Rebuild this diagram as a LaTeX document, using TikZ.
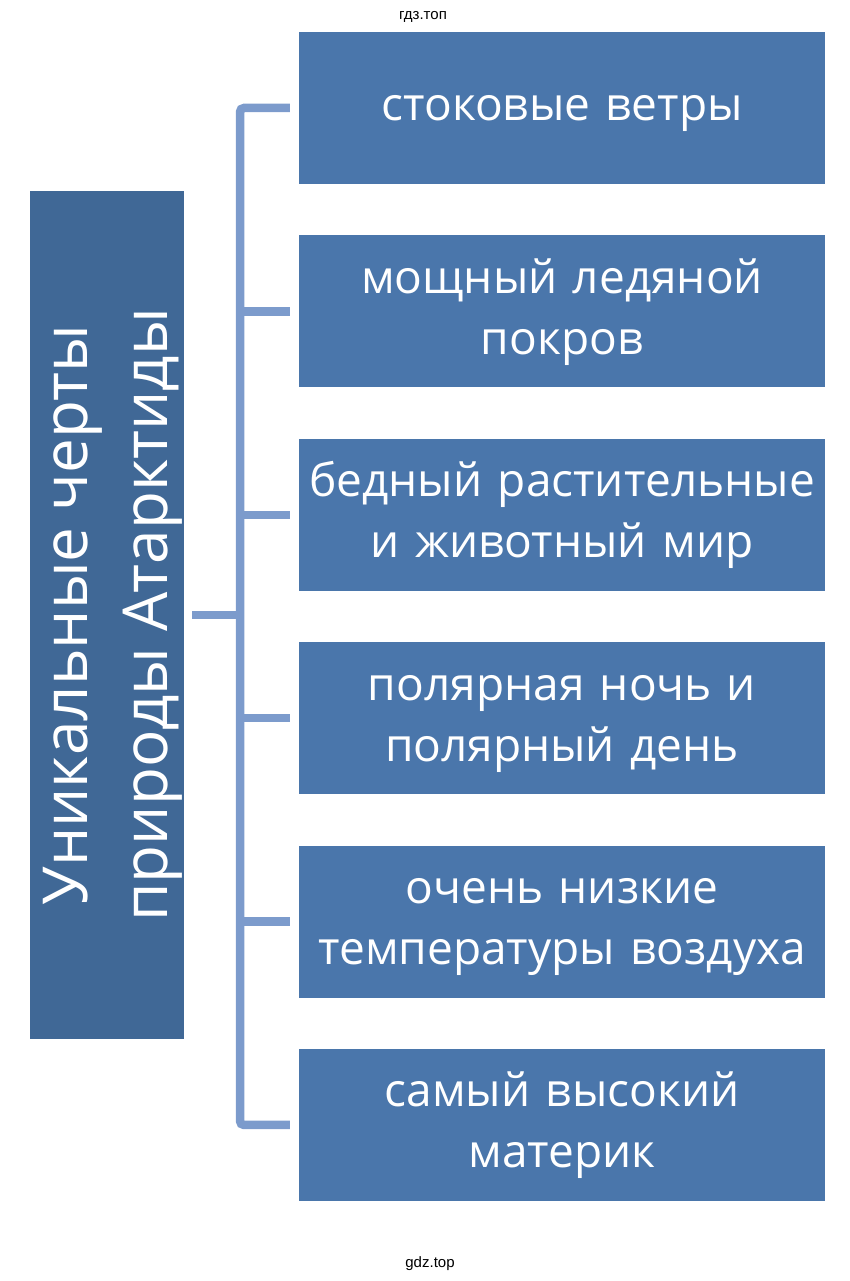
\documentclass[tikz,border=0pt]{standalone}
\usepackage{fontspec}
\setmainfont{Open Sans}[WordSpace=0.6]
\newfontfamily\titlefont{Open Sans}
\newfontfamily\markfont{Liberation Sans}
\usetikzlibrary{positioning}
\definecolor{boxblue}{RGB}{74,118,171}
\definecolor{mainblue}{RGB}{64,104,150}
\definecolor{linkblue}{RGB}{124,155,204}
\tikzstyle{block} = [rectangle, fill=boxblue, text=white, text width=526pt, align=center, minimum width=526pt, minimum height=152pt, inner sep=0pt, text height=25pt, text depth=61pt, font=\fontsize{46}{61}\selectfont]
\tikzstyle{mainblock} = [rectangle, fill=mainblue, rotate=90, minimum width=848pt, minimum height=154pt, inner sep=0pt]
\tikzstyle{maintext} = [text=white, rotate=90, align=center, inner sep=0pt, text height=113pt, text depth=0pt, font=\titlefont\fontsize{62}{80}\selectfont]
\tikzstyle{link} = [draw=linkblue, line width=8.5pt, rounded corners=4pt]
\tikzstyle{stamp} = [font=\markfont\fontsize{15}{18}\selectfont, text=black]

\begin{document}
\begin{tikzpicture}[node distance = 51pt]
                        \useasboundingbox (0,0) rectangle (850pt,1281pt);
                        \node[mainblock](main) at (107pt,666pt){};
                        \node[maintext](mainlabel) at ([xshift=4pt]main.center){Уникальные черты\\природы Атарктиды};
                        \node[block, text depth=0pt](b1) at (562pt,1173pt){стоковые ветры};
                        \node[block, below=of b1](b2){мощный ледяной\\покров};
                        \node[block, below=of b2](b3){бедный растительные\\и животный мир};
                        \node[block, below=of b3](b4){полярная ночь и\\полярный день};
                        \node[block, below=of b4](b5){очень низкие\\температуры воздуха};
                        \node[block, below=of b5](b6){самый высокий\\материк};
                        \coordinate (spine) at (240pt,0);
                        \draw[link, shorten <=9pt, shorten >=9pt] (b1.west) -- (spine |- b1) -- (spine |- b6) -- (b6.west);
                        \foreach \i in {2,...,5}
                            \draw[link, shorten >=9pt] (spine |- b\i) -- (b\i.west);
                        \draw[link, shorten <=8pt] (main.south) -- (spine |- main);
                        \node[stamp](top) at (423pt,1264pt){гдз.топ};
                        \node[stamp](bottom) at (430pt,17pt){gdz.top};
                    \end{tikzpicture}
\end{document}
